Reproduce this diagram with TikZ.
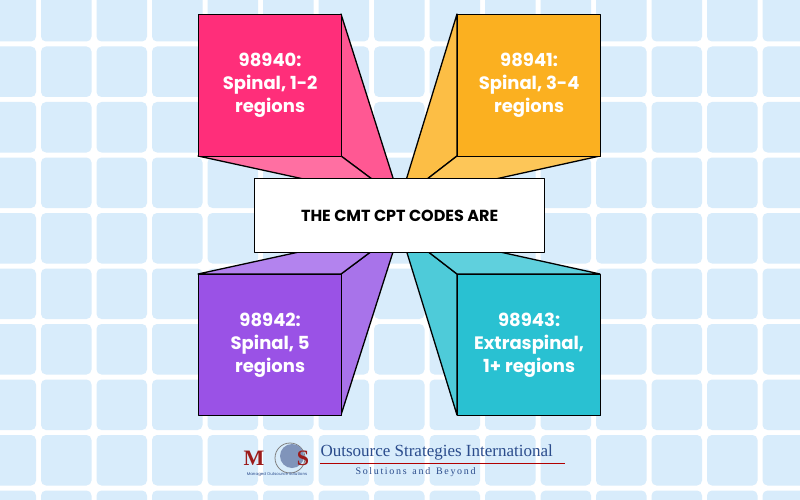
\documentclass[tikz,border=0pt]{standalone}
\usepackage{fontspec}
\setmainfont{Poppins}
\newfontfamily\serifx{Liberation Serif}
\begin{document}
\begin{tikzpicture}[x=1pt,y=-1pt,
  edge/.style={draw=black,line width=1.3pt,line join=round},
  lbl/.style={text=white,font=\fontsize{18}{23}\selectfont\bfseries,align=center}]
\definecolor{bgc}{HTML}{D8ECFB}
\definecolor{pinkA}{HTML}{FF2E7A}\definecolor{pinkB}{HTML}{FF5893}\definecolor{pinkC}{HTML}{FF6FA2}
\definecolor{orA}{HTML}{FBB020}\definecolor{orB}{HTML}{FCBE45}\definecolor{orC}{HTML}{FDC658}
\definecolor{puA}{HTML}{9A52E6}\definecolor{puB}{HTML}{A873EA}\definecolor{puC}{HTML}{B383EE}
\definecolor{teA}{HTML}{29C1D2}\definecolor{teB}{HTML}{4ECBD9}\definecolor{teC}{HTML}{5FD0DD}
\definecolor{navy}{HTML}{2B4C8C}\definecolor{mred}{HTML}{9B1B1B}
\useasboundingbox (0,0) rectangle (800,500);
\fill[white] (0,0) rectangle (800,500);
\foreach \i in {-1,...,14}{\foreach \j in {-1,...,9}{
  \fill[bgc,rounded corners=5pt] (38.5+\i*55.5+2.5,44+\j*55.5-55.5+2.5) rectangle ++(50.5,50.5);}}
\coordinate (vt) at (400,200);
\coordinate (vb) at (400,230);
% pink
\filldraw[edge,fill=pinkB] (341,14) -- (341,156) -- (vt) -- cycle;
\filldraw[edge,fill=pinkC] (198,156) -- (341,156) -- (vt) -- cycle;
\node[edge,fill=pinkA,minimum width=143pt,minimum height=142pt,inner sep=0,anchor=north west,lbl] (a) at (198,14) {98940:\\Spinal, 1-2\\regions};
% orange
\filldraw[edge,fill=orB] (457,14) -- (457,156) -- (vt) -- cycle;
\filldraw[edge,fill=orC] (457,156) -- (600,156) -- (vt) -- cycle;
\node[edge,fill=orA,minimum width=143pt,minimum height=142pt,inner sep=0,anchor=north west,lbl] (b) at (457,14) {98941:\\Spinal, 3-4\\regions};
% purple
\filldraw[edge,fill=puB] (341,274) -- (341,415) -- (vb) -- cycle;
\filldraw[edge,fill=puC] (198,274) -- (341,274) -- (vb) -- cycle;
\node[edge,fill=puA,minimum width=143pt,minimum height=141pt,inner sep=0,anchor=north west,lbl] (c) at (198,274) {98942:\\Spinal, 5\\regions};
% teal
\filldraw[edge,fill=teB] (457,274) -- (457,415) -- (vb) -- cycle;
\filldraw[edge,fill=teC] (457,274) -- (600,274) -- (vb) -- cycle;
\node[edge,fill=teA,minimum width=143pt,minimum height=141pt,inner sep=0,anchor=north west,lbl] (d) at (457,274) {98943:\\Extraspinal,\\1+ regions};
% center
\node[edge,fill=white,minimum width=290pt,minimum height=74pt,inner sep=0,anchor=north west,font=\fontsize{16}{19}\selectfont\bfseries] (t) at (254,178) {THE CMT CPT CODES ARE};
% logo
\draw[gray,line width=0.8pt] (290,458) circle (15);
\fill[navy!60] (292,456) circle (12);
\node[text=mred,font=\serifx\fontsize{22}{22}\selectfont\bfseries] (m) at (254,458) {M};
\node[text=mred,font=\serifx\fontsize{22}{22}\selectfont\bfseries] (s) at (303,458) {S};
\node[text=navy,font=\fontsize{4}{4}\selectfont] (mos) at (277,475) {Managed Outsource Solutions};
\node[text=navy,font=\serifx\fontsize{17}{17}\selectfont,anchor=west] (o) at (317,452) {Outsource Strategies International};
\draw[red!70!black,line width=0.8pt] (320,463) -- (565,463);
\node[text=navy,font=\serifx\fontsize{10}{10}\selectfont,anchor=west] (sb) at (352,472) {S\,o\,l\,u\,t\,i\,o\,n\,s\,\, a\,n\,d\,\, B\,e\,y\,o\,n\,d};
\end{tikzpicture}
\end{document}
